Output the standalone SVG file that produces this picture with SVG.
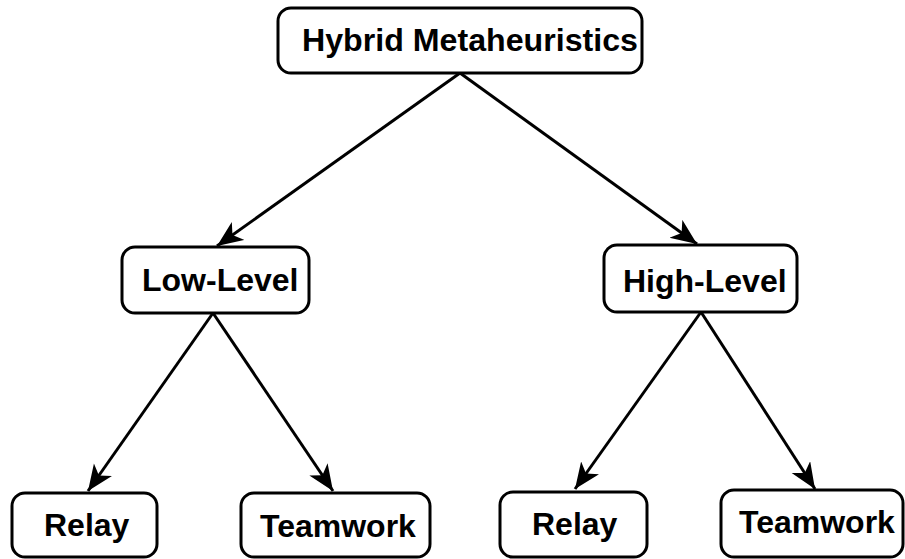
<svg xmlns="http://www.w3.org/2000/svg" width="905" height="559" viewBox="0 0 905 559">
<style>
.box{fill:#fff;stroke:#000;stroke-width:3}
.lbl{font-family:"Liberation Sans",Arial,sans-serif;font-weight:bold;font-size:32px;fill:#000}
.edge{stroke:#000;stroke-width:3;fill:none;marker-end:url(#arr)}
</style>
<defs>
<marker id="arr" markerUnits="userSpaceOnUse" markerWidth="28" markerHeight="24" refX="26" refY="11" orient="auto">
<path d="M0,0 L26,11 L0,22 L7,11 z" fill="#000"/>
</marker>
</defs>
<rect width="905" height="559" fill="#fff"/>
<g id="connectors">
<line class="edge" x1="460" y1="73" x2="217" y2="246"/>
<line class="edge" x1="460" y1="73" x2="697" y2="244"/>
<line class="edge" x1="213" y1="313" x2="88" y2="491"/>
<line class="edge" x1="213" y1="313" x2="333" y2="491"/>
<line class="edge" x1="701" y1="312" x2="575" y2="489"/>
<line class="edge" x1="701" y1="312" x2="815" y2="489"/>
</g>
<g id="hybrid">
<rect class="box" x="278" y="8" width="364" height="65" rx="13"/>
<text class="lbl" x="302" y="51" textLength="336" lengthAdjust="spacingAndGlyphs">Hybrid Metaheuristics</text>
</g>
<g id="low">
<rect class="box" x="122" y="247" width="187" height="66" rx="13"/>
<text class="lbl" x="142" y="291">Low-Level</text>
</g>
<g id="high">
<rect class="box" x="604" y="245" width="193" height="67" rx="13"/>
<text class="lbl" x="623" y="292">High-Level</text>
</g>
<g id="relay1">
<rect class="box" x="12" y="493" width="145" height="64" rx="13"/>
<text class="lbl" x="44" y="536">Relay</text>
</g>
<g id="team1">
<rect class="box" x="241" y="493" width="189" height="64" rx="13"/>
<text class="lbl" x="260" y="537">Teamwork</text>
</g>
<g id="relay2">
<rect class="box" x="500" y="492" width="147" height="65" rx="13"/>
<text class="lbl" x="532" y="535">Relay</text>
</g>
<g id="team2">
<rect class="box" x="721" y="490" width="182" height="67" rx="13"/>
<text class="lbl" x="739" y="533">Teamwork</text>
</g>
</svg>
